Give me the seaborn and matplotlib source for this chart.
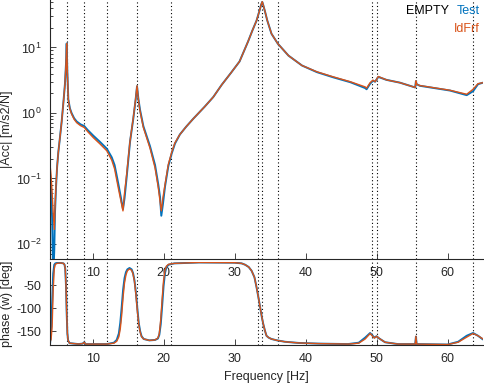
import numpy as np
import pandas as pd
import matplotlib
matplotlib.use("Agg")
import matplotlib.pyplot as plt
import seaborn as sns

# ---------------- data ----------------
freq_mag = [4.0, 4.15, 4.3, 4.45, 4.6, 4.7, 4.85, 5.0, 5.17, 5.4,
            5.65, 5.9, 6.11, 6.25, 6.35, 6.45, 6.58, 6.8, 7.05, 7.4,
            7.76, 8.3, 8.83, 9.3, 10.1, 11.0, 12.0, 12.7, 13.1, 13.4,
            13.7, 14.0, 14.28, 14.5, 14.8, 15.27, 15.74, 16.05, 16.26, 16.45,
            16.68, 17.15, 18.09, 18.8, 19.26, 19.5, 19.68, 19.9, 20.2, 20.67,
            21.14, 21.6, 22.3, 23.2, 24.2, 25.8, 27.0, 28.2, 29.5, 30.7,
            31.9, 32.5, 33.1, 33.5, 33.75, 33.9, 34.05, 34.3, 34.6, 35.2,
            36.1, 37.6, 39.5, 41.6, 43.9, 46.3, 48.4, 48.6, 49.1, 49.5,
            49.8, 50.25, 51.4, 53.3, 55.45, 55.55, 55.65, 56.1, 60.35, 62.7,
            63.6, 64.3, 65.0]
mag_idfrf = [0.165, 0.11, 0.06, 0.03, 0.0167, 0.035, 0.08, 0.15, 0.25, 0.42,
             0.75, 1.5, 2.8, 5.5, 11.5, 4.0, 1.6, 1.15, 0.96, 0.8,
             0.71, 0.64, 0.6, 0.52, 0.42, 0.34, 0.265, 0.19, 0.14, 0.095,
             0.065, 0.045, 0.032, 0.06, 0.115, 0.37, 0.85, 1.6, 2.6, 1.6,
             1.07, 0.6, 0.29, 0.145, 0.072, 0.045, 0.032, 0.05, 0.08, 0.164,
             0.25, 0.35, 0.47, 0.62, 0.82, 1.25, 1.75, 2.7, 4.1, 6.1,
             12.3, 18.0, 25.7, 36.0, 45.0, 50.0, 44.0, 35.0, 26.0, 16.2,
             11.4, 7.5, 5.3, 4.25, 3.56, 3.0, 2.5, 2.39, 2.9, 3.17,
             3.0, 3.6, 3.2, 2.9, 2.45, 3.1, 2.75, 2.62, 2.22, 1.93,
             2.3, 2.8, 2.9]
mag_test = [0.12, 0.065, 0.025, 0.003, 0.008, 0.03, 0.075, 0.15, 0.25, 0.42,
            0.75, 1.5, 2.8, 5.5, 11.5, 4.0, 1.62, 1.18, 0.99, 0.83,
            0.74, 0.67, 0.63, 0.55, 0.45, 0.365, 0.285, 0.21, 0.16, 0.11,
            0.075, 0.05, 0.034, 0.05, 0.105, 0.36, 0.83, 1.55, 2.55, 1.65,
            1.12, 0.63, 0.31, 0.16, 0.08, 0.052, 0.027, 0.04, 0.075, 0.155,
            0.24, 0.34, 0.47, 0.62, 0.82, 1.25, 1.75, 2.7, 4.1, 6.1,
            12.3, 18.0, 25.7, 36.0, 45.0, 49.5, 44.0, 35.0, 26.0, 16.2,
            11.4, 7.5, 5.3, 4.2, 3.5, 2.95, 2.4, 2.3, 2.8, 3.1,
            3.0, 3.55, 3.2, 2.9, 2.45, 3.05, 2.75, 2.6, 2.2, 1.87,
            2.15, 2.75, 2.9]

freq_phase = [4.0, 4.15, 4.3, 4.45, 4.6, 4.75, 5.0, 5.5, 5.9, 6.05,
              6.15, 6.25, 6.35, 6.45, 6.55, 6.75, 8.0, 8.6, 8.83, 9.0,
              12.0, 13.0, 13.4, 13.7, 13.9, 14.1, 14.3, 14.5, 14.7, 14.9,
              15.2, 15.5, 15.7, 15.9, 16.1, 16.3, 16.5, 16.7, 16.9, 17.2,
              18.0, 18.8, 19.2, 19.4, 19.6, 19.8, 20.0, 20.2, 20.4, 20.7,
              21.5, 25.0, 30.0, 31.0, 31.5, 32.0, 32.4, 32.8, 33.1, 33.4,
              33.6, 33.85, 34.05, 34.3, 34.5, 34.8, 35.2, 36.0, 37.1, 39.0,
              41.8, 46.0, 47.5, 48.4, 49.1, 49.7, 50.0, 50.4, 51.2, 53.0,
              55.45, 55.55, 55.65, 60.0, 61.5, 62.7, 63.6, 64.3, 65.0]
phase_idfrf = [-174, -168, -140, -60, -15, -5, -3, -2, -3, -6,
               -15, -50, -110, -155, -170, -176, -178, -177, -174, -178,
               -178, -176, -172, -162, -145, -115, -75, -45, -28, -19,
               -15, -18, -26, -42, -70, -105, -135, -152, -162, -167,
               -170, -169, -165, -155, -125, -80, -40, -18, -9, -5,
               -3, -1, -1.5, -3, -6, -11, -19, -33, -55, -80,
               -98, -120, -135, -150, -160, -164, -167, -170, -173, -175.5,
               -177, -178, -176, -167, -155, -165, -161, -166, -174, -178,
               -178, -161, -178, -179, -174, -163, -155, -160, -167]
phase_test = [-178, -150, -90, -25, -6, -3, -2, -2, -3, -6,
              -15, -50, -110, -155, -170, -176, -178, -177, -174, -178,
              -178, -175, -169, -155, -132, -98, -60, -35, -22, -16,
              -13, -16, -24, -40, -66, -100, -132, -150, -161, -167,
              -170, -169, -166, -158, -135, -95, -52, -24, -11, -6,
              -3, -1, -1.5, -3, -6, -11, -19, -33, -55, -80,
              -98, -120, -135, -150, -160, -164, -167, -170, -173, -175.5,
              -177, -178, -175, -164, -154, -164, -161, -166, -174, -178,
              -178, -162, -178, -179, -173, -160, -154, -160, -168]

vlines = [6.35, 8.83, 12.07, 16.26, 21.09, 33.35, 33.9, 36.08, 49.36, 50.03, 55.56, 63.64]
xticks = [10, 20, 30, 40, 50, 60]
phase_ticks = [-150, -100, -50]

BLUE = "#0072BD"
ORANGE = "#D95319"
AXC = "#262626"

sns.set_style("ticks")
plt.rcParams["font.family"] = ["Liberation Sans", "DejaVu Sans"]
plt.rcParams["font.size"] = 9
plt.rcParams["mathtext.fontset"] = "custom"
plt.rcParams["mathtext.rm"] = "Liberation Sans"
plt.rcParams["mathtext.default"] = "regular"

W, H = 484, 387
fig = plt.figure(figsize=(W / 100, H / 100), dpi=100)

ax1 = fig.add_axes([50 / W, 1 - 259 / H, 433 / W, 259 / H])
ax2 = fig.add_axes([50 / W, 1 - 345 / H, 433 / W, 83 / H])
ax1.patch.set_alpha(0)
ax2.patch.set_alpha(0)

df_t = pd.DataFrame({"f": freq_mag, "v": mag_test})
df_i = pd.DataFrame({"f": freq_mag, "v": mag_idfrf})
sns.lineplot(data=df_t, x="f", y="v", ax=ax1, color=BLUE, lw=1.4, legend=False)
sns.lineplot(data=df_i, x="f", y="v", ax=ax1, color=ORANGE, lw=1.0, legend=False)

dp_t = pd.DataFrame({"f": freq_phase, "v": phase_test})
dp_i = pd.DataFrame({"f": freq_phase, "v": phase_idfrf})
sns.lineplot(data=dp_t, x="f", y="v", ax=ax2, color=BLUE, lw=1.4, legend=False)
sns.lineplot(data=dp_i, x="f", y="v", ax=ax2, color=ORANGE, lw=1.0, legend=False)

for ax in (ax1, ax2):
    for v in vlines:
        ax.axvline(v, color="black", lw=0.8, ls=(0, (1, 2.2)), zorder=0.5)
    ax.set_xlim(4, 65)
    ax.set_xticks(xticks)
    ax.set_xticklabels([str(t) for t in xticks])
    for s in ("top", "right"):
        ax.spines[s].set_visible(False)
    for s in ("left", "bottom"):
        ax.spines[s].set_color(AXC)
        ax.spines[s].set_linewidth(0.8)
    ax.tick_params(which="major", direction="in", length=4, width=0.6, color=AXC,
                   labelcolor=AXC, labelsize=9, pad=6)
    ax.tick_params(which="minor", direction="in", length=2, width=0.6, color=AXC)
    ax.set_xlabel("")
    ax.set_ylabel("")

ax1.set_yscale("log")
ax1.set_ylim(0.0059, 53)
ax1.set_ylabel("|Acc| [m/s2/N]", fontsize=9, color=AXC)
ax1.yaxis.set_label_coords(-0.085, 0.5)

ax2.set_ylim(-180, 0)
ax2.set_yticks(phase_ticks)
ax2.set_yticklabels([str(t) for t in phase_ticks])
ax2.set_ylabel("phase (w) [deg]", fontsize=9, color=AXC)
ax2.yaxis.set_label_coords(-0.085, 0.5)
ax2.set_xlabel("Frequency [Hz]", fontsize=9, color=AXC, labelpad=4)

# legend-like texts
fig.text(480 / W, 1 - 11 / H, "Test", color=BLUE, ha="right", va="center", fontsize=9)
fig.text(449 / W, 1 - 11 / H, "EMPTY", color="black", ha="right", va="center", fontsize=9)
fig.text(480 / W, 1 - 29 / H, "IdFrf", color=ORANGE, ha="right", va="center", fontsize=9)

fig.savefig("out.png", dpi=100)
